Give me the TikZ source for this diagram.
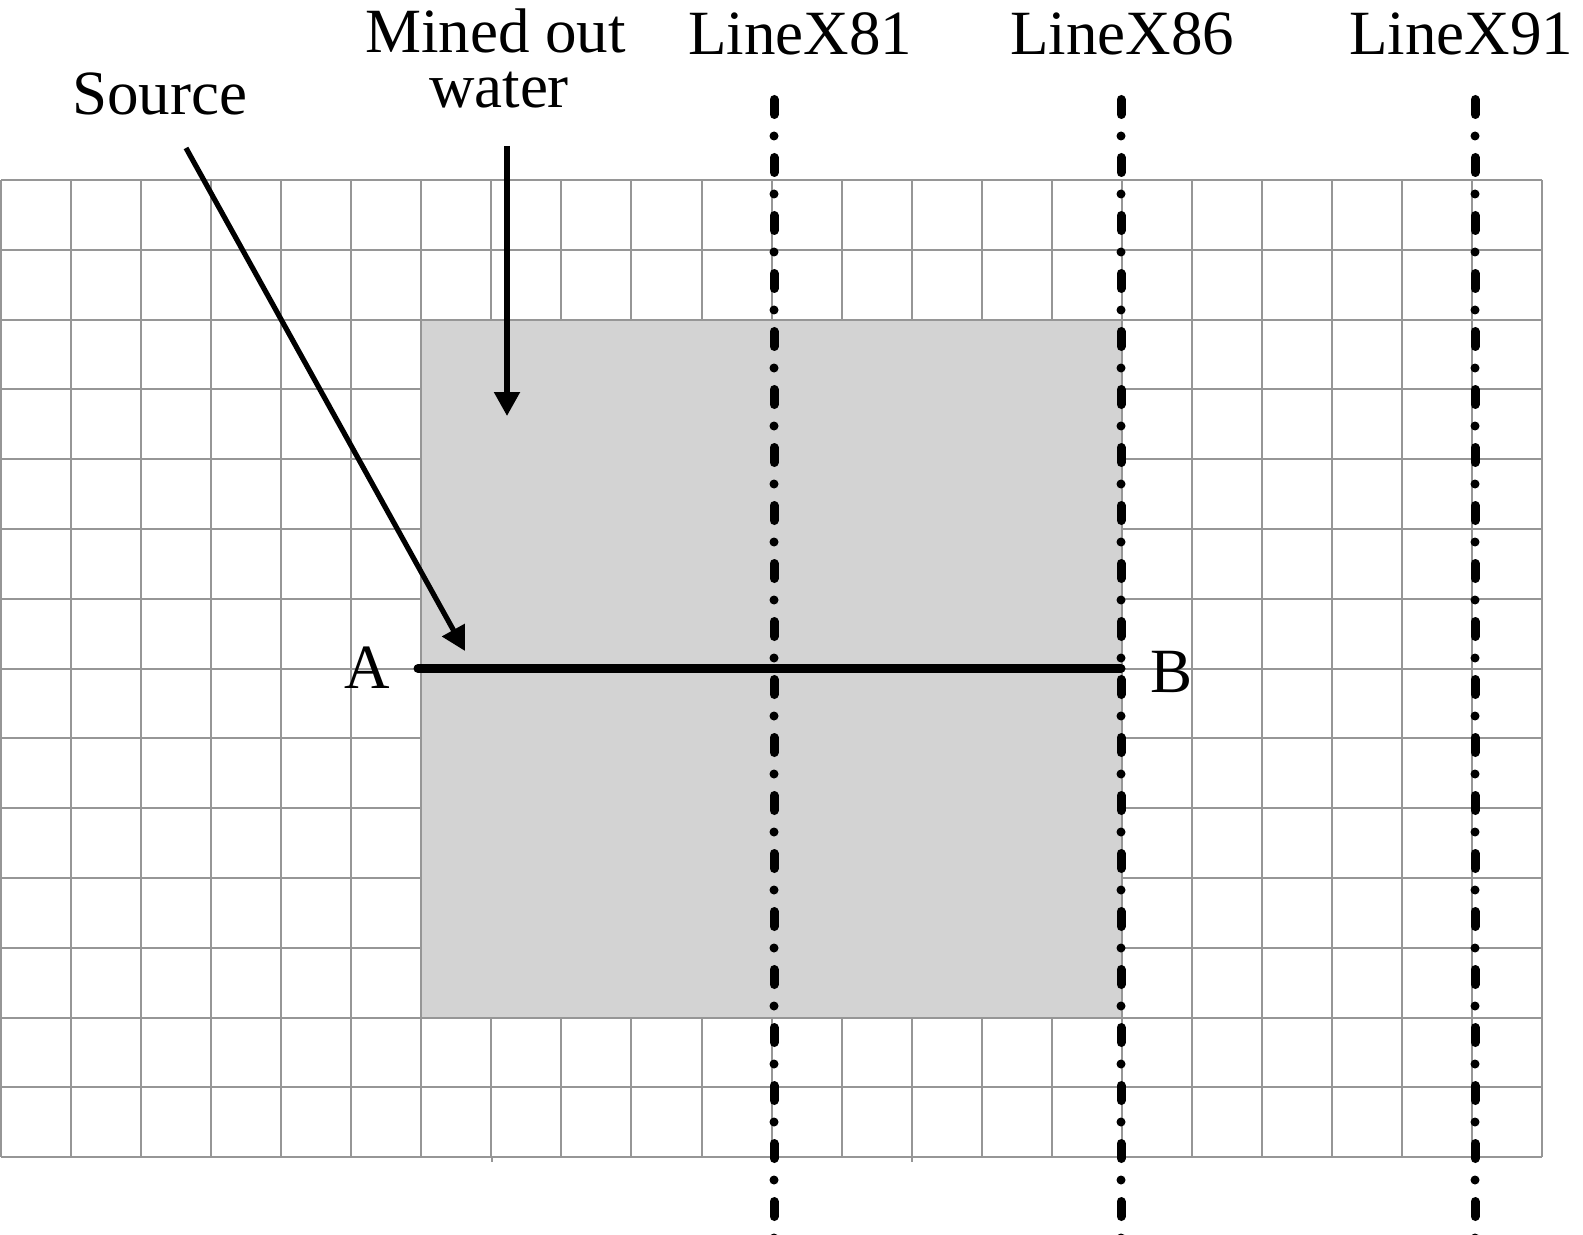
\documentclass[tikz,border=0pt]{standalone}
\usepackage{fontspec}
\setmainfont{Liberation Serif}
\usetikzlibrary{arrows.meta}
\definecolor{gridc}{RGB}{150,150,150}
\definecolor{minec}{RGB}{211,211,211}
\begin{document}
\begin{tikzpicture}[x=0.5pt,y=-0.5pt,
  lbl/.style={anchor=base,inner sep=0pt,font=\fontsize{31.5}{36}\selectfont},
  gridline/.style={draw=gridc,line width=1pt},
  sectline/.style={line width=4.5pt,line cap=round,dash pattern=on 7.5pt off 10.75pt on 0pt off 10.75pt},
  pointer/.style={line width=2.6pt,-{Triangle[length=12pt,width=12.5pt]}},
  profile/.style={line width=4.5pt,line cap=round}]
\useasboundingbox (0,0) rectangle (1583,1235);
% grid
\foreach \i in {0,...,22}{
  \draw[gridline] ({1+\i*70.05},180) -- ({1+\i*70.05},1157);
}
\foreach \j in {0,...,14}{
  \draw[gridline] (1,{180+\j*69.8}) -- (1542,{180+\j*69.8});
}
\draw[gridline] (491.5,1157) -- (491.5,1162);
\draw[gridline] (911.5,1157) -- (911.5,1162);
% mined-out area
\fill[minec] (421.3,319.6) rectangle (1121.8,1017.6);
\draw[gridline] (421.3,319.6) rectangle (1121.8,1017.6);
% survey lines
\coordinate (l81t) at (774,99.5);  \coordinate (l81b) at (774,1245);
\coordinate (l86t) at (1121,99.5); \coordinate (l86b) at (1121,1245);
\coordinate (l91t) at (1475,99.5); \coordinate (l91b) at (1475,1245);
\draw[sectline] (l81t) -- (l81b);
\draw[sectline] (l86t) -- (l86b);
\draw[sectline] (l91t) -- (l91b);
% profile A-B
\coordinate (A) at (418,668.6);
\coordinate (B) at (1121,668.6);
\draw[profile] (A) -- (B);
% labels
\node[lbl] (labA) at (367,688) {A};
\node[lbl] (labB) at (1171,692) {B};
\node[lbl] (src) at (159.5,115) {Source};
\node[lbl] (mined) at (495.5,53) {Mined out};
\node[lbl] (water) at (499,108) {water};
\node[lbl] (x81) at (800,55) {LineX81};
\node[lbl] (x86) at (1122,55) {LineX86};
\node[lbl] (x91) at (1461,55) {LineX91};
% pointers
\coordinate (srcS) at (186,148);
\coordinate (srcE) at (465,651);
\coordinate (mwS) at (507,146);
\coordinate (mwE) at (507,416);
\draw[pointer] (srcS) -- (srcE);
\draw[pointer] (mwS) -- (mwE);
\end{tikzpicture}
\end{document}
